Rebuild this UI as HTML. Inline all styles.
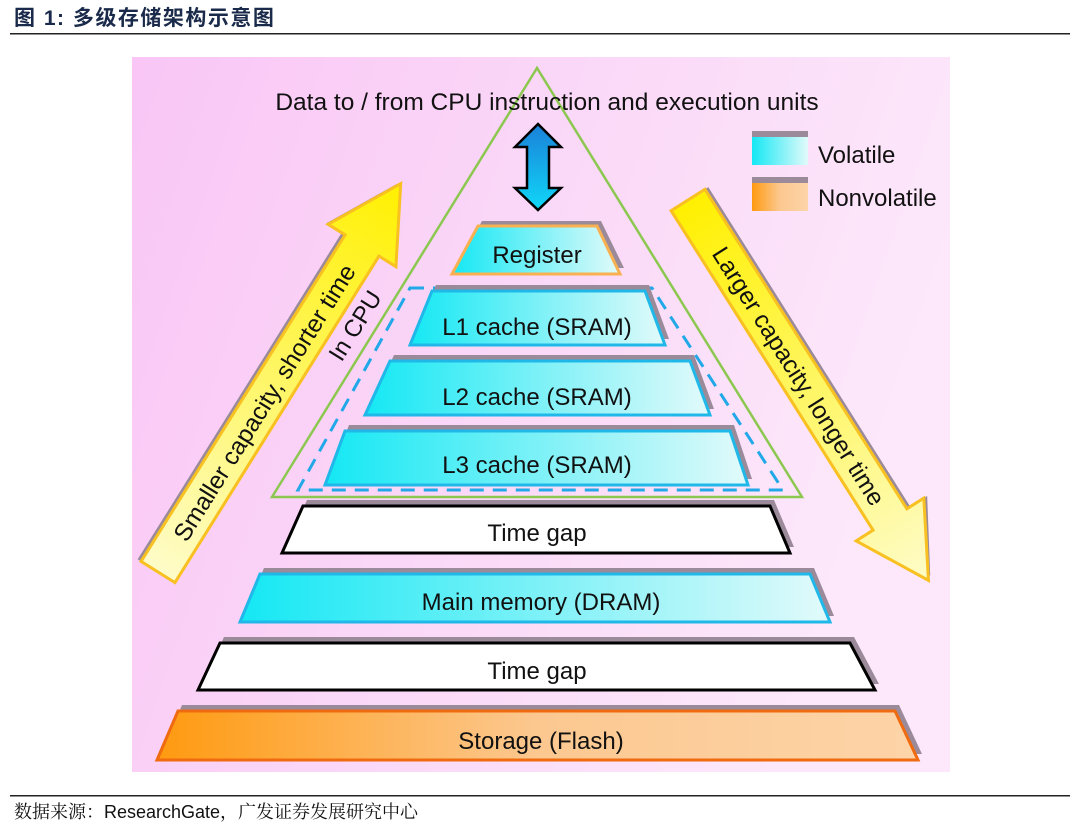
<!DOCTYPE html>
<html><head><meta charset="utf-8"><style>
html,body{margin:0;padding:0;background:#fff;width:1080px;height:830px;overflow:hidden}
svg{display:block}
</style></head><body>
<svg width="1080" height="830" viewBox="0 0 1080 830" xmlns="http://www.w3.org/2000/svg" font-family="'Liberation Sans', sans-serif">
<defs>
<linearGradient id="bg" x1="0" y1="0" x2="1" y2="0.3"><stop offset="0" stop-color="#f9c6f5"/><stop offset="1" stop-color="#fce8fa"/></linearGradient>
<linearGradient id="cy" x1="0" y1="0" x2="1" y2="0"><stop offset="0" stop-color="#14e8f4"/><stop offset="1" stop-color="#e2fafa"/></linearGradient>
<linearGradient id="or" x1="0" y1="0" x2="1" y2="0"><stop offset="0" stop-color="#ff9a10"/><stop offset="0.5" stop-color="#fcc890"/><stop offset="1" stop-color="#fdd4a8"/></linearGradient>
<linearGradient id="ylL" x1="0" y1="0" x2="1" y2="0"><stop offset="0" stop-color="#fefcc8"/><stop offset="1" stop-color="#fff000"/></linearGradient>
<linearGradient id="ylR" x1="0" y1="0" x2="1" y2="0"><stop offset="0" stop-color="#fff000"/><stop offset="1" stop-color="#fefcc8"/></linearGradient>
<linearGradient id="bl" x1="0" y1="0" x2="0" y2="1"><stop offset="0" stop-color="#1a80d8"/><stop offset="1" stop-color="#10d8f8"/></linearGradient>
</defs>
<text x="14" y="25" font-size="21" font-weight="bold" fill="#1a2a4a" letter-spacing="1.5" font-family="'Liberation Sans','Noto Sans CJK SC',sans-serif">图 1:  多级存储架构示意图</text>
<rect x="10" y="33" width="1060" height="1.5" fill="#222"/>
<rect x="132" y="57" width="818" height="715" fill="url(#bg)"/>

<polygon points="537,68 272,497 802,497" fill="none" stroke="#8cc850" stroke-width="2.5"/>
<polygon points="410,288 652,288 783,490 298,490" fill="none" stroke="#20a8e8" stroke-width="3" stroke-dasharray="14,9"/>

<text x="547" y="110" font-size="24.5" text-anchor="middle" fill="#111">Data to / from CPU instruction and execution units</text>

<polygon points="538,124 561,147 549,147 549,188 561,188 538,210 515,188 527,188 527,147 515,147" fill="url(#bl)" stroke="#000" stroke-width="2.5"/>

<rect x="752" y="131" width="56" height="6" fill="#9a8a9a"/>
<rect x="752" y="137" width="56" height="28" fill="url(#cy)"/>
<text x="818" y="163" font-size="24" fill="#111">Volatile</text>
<rect x="752" y="177" width="56" height="6" fill="#9a8a9a"/>
<rect x="752" y="183" width="56" height="28" fill="url(#or)"/>
<text x="818" y="206" font-size="24" fill="#111">Nonvolatile</text>

<g>
<polygon points="482,221 601,221 624,268 456,268" fill="#9a8a9a"/>
<polygon points="478,226 597,226 620,274 452,274" fill="url(#cy)" stroke="#f8b050" stroke-width="3"/>
<text x="537" y="263" font-size="24" text-anchor="middle" fill="#111">Register</text>

<polygon points="436,285 649,285 669,339 414,339" fill="#9a8a9a"/>
<polygon points="432,291 645,291 665,345 410,345" fill="url(#cy)" stroke="#20b8e8" stroke-width="3"/>
<text x="537" y="335" font-size="24" text-anchor="middle" fill="#111">L1 cache (SRAM)</text>

<polygon points="394,355 694,355 714,409 369,409" fill="#9a8a9a"/>
<polygon points="390,361 690,361 710,415 365,415" fill="url(#cy)" stroke="#20b8e8" stroke-width="3"/>
<text x="537" y="405" font-size="24" text-anchor="middle" fill="#111">L2 cache (SRAM)</text>

<polygon points="349,425 734,425 752,479 329,479" fill="#9a8a9a"/>
<polygon points="345,431 730,431 748,485 325,485" fill="url(#cy)" stroke="#20b8e8" stroke-width="3"/>
<text x="537" y="473" font-size="24" text-anchor="middle" fill="#111">L3 cache (SRAM)</text>

<polygon points="307,500 774,500 794,547 286,547" fill="#9a8a9a"/>
<polygon points="303,506 770,506 790,553 282,553" fill="#fff" stroke="#000" stroke-width="3"/>
<text x="537" y="541" font-size="24" text-anchor="middle" fill="#111">Time gap</text>

<polygon points="264,568 814,568 834,616 244,616" fill="#9a8a9a"/>
<polygon points="260,574 810,574 830,622 240,622" fill="url(#cy)" stroke="#20b8e8" stroke-width="3"/>
<text x="541" y="610" font-size="24" text-anchor="middle" fill="#111">Main memory (DRAM)</text>

<polygon points="224,637 854,637 879,684 202,684" fill="#9a8a9a"/>
<polygon points="220,643 850,643 875,690 198,690" fill="#fff" stroke="#000" stroke-width="3"/>
<text x="537" y="679" font-size="24" text-anchor="middle" fill="#111">Time gap</text>

<polygon points="182,705 899,705 922,754 161,754" fill="#9a8a9a"/>
<polygon points="178,711 895,711 918,760 157,760" fill="url(#or)" stroke="#f06a10" stroke-width="3"/>
<text x="541" y="749" font-size="24" text-anchor="middle" fill="#111">Storage (Flash)</text>
</g>

<g transform="translate(158,572) rotate(-58)">
<polygon points="0,-24 385,-24 385,-42 456,-3 385,36 385,18 0,18" fill="#9a8a9a"/>
<polygon points="0,-20 385,-20 385,-40 458,0 385,40 385,20 0,20" fill="url(#ylL)" stroke="#f8c020" stroke-width="3"/>
<text x="200" y="9" font-size="24.5" text-anchor="middle" fill="#111">Smaller capacity, shorter time</text>
</g>
<text transform="translate(362,330) rotate(-58)" font-size="24" text-anchor="middle" fill="#111">In CPU</text>

<g transform="translate(688,200) rotate(57.7)">
<polygon points="0,-24 378,-24 378,-44 447,-4 378,36 378,18 0,18" fill="#9a8a9a"/>
<polygon points="0,-20 378,-20 378,-40 450,0 378,40 378,20 0,20" fill="url(#ylR)" stroke="#f8c020" stroke-width="3"/>
<text x="208" y="9" font-size="24.5" text-anchor="middle" fill="#111">Larger capacity, longer time</text>
</g>

<rect x="10" y="795" width="1060" height="1.5" fill="#222"/>
<text x="14" y="818" font-size="18" fill="#111" font-family="'Liberation Sans','Noto Serif CJK SC',serif">数据来源：ResearchGate，广发证券发展研究中心</text>
</svg>
</body></html>
